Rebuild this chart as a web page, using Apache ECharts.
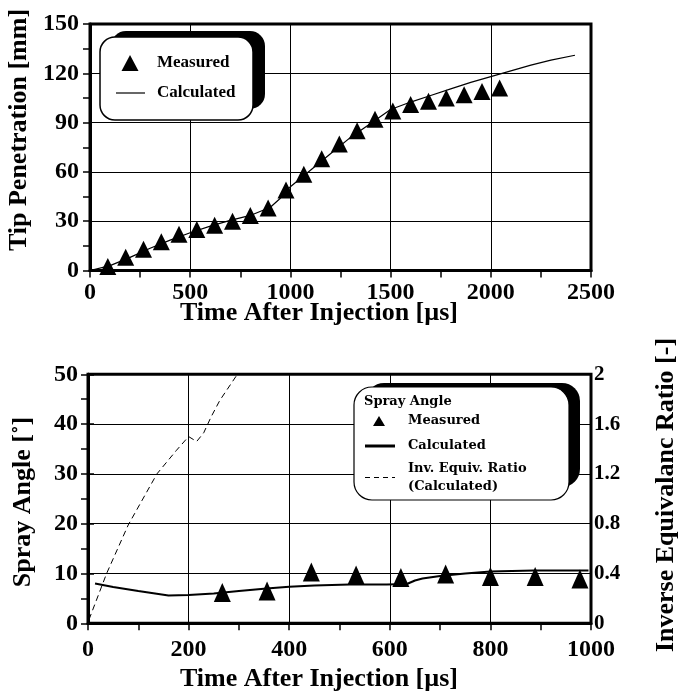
<!DOCTYPE html>
<html>
<head>
<meta charset="utf-8">
<script src="https://cdn.jsdelivr.net/npm/echarts@6/dist/echarts.min.js"></script>
<style>
  html, body { margin: 0; padding: 0; background: #fff; }
  #main { width: 679px; height: 693px; }
</style>
</head>
<body>
<div id="main"></div>
<script>
// top chart: tip penetration
var tipTime = [89, 178, 267, 356, 444, 533, 622, 711, 800, 889, 978, 1067, 1156, 1244,
    1333, 1422, 1511, 1600, 1689, 1778, 1867, 1956, 2044];
var tipMeasured = [2.5, 8, 13, 17.5, 22, 25, 27.5, 30, 33.5, 38, 49, 58.5, 68, 77,
    85, 92, 97, 101, 103, 105, 107, 109, 111];
var tipCalcTime = [0, 100, 200, 300, 400, 500, 600, 700, 800, 900, 950, 1000, 1100, 1200,
    1300, 1400, 1500, 1600, 1700, 1800, 1900, 2000, 2100, 2200, 2300, 2420];
var tipCalc = [0, 3, 8, 13.5, 18.5, 23, 27, 30.5, 33.5, 38.5, 44, 51, 61, 71,
    81, 89.5, 98, 102.5, 106.5, 110.5, 114.5, 118, 121.5, 125, 128, 131];

// bottom chart: spray angle + inverse equivalence ratio
var angleTime = [267, 356, 444, 533, 622, 711, 800, 889, 978];
var angleMeasured = [6.2, 6.5, 10.3, 9.7, 9.2, 9.9, 9.4, 9.4, 8.9];
var angleCalcTime = [14, 50, 100, 160, 200, 250, 300, 355, 400, 450, 520, 594, 634,
    650, 665, 700, 750, 800, 886, 995];
var angleCalc = [8.0, 7.3, 6.5, 5.6, 5.7, 6.0, 6.5, 7.0, 7.35, 7.6, 7.8, 7.8, 7.9,
    8.6, 9.0, 9.5, 10.0, 10.4, 10.6, 10.6];
var ratioTime = [2, 37, 80, 137, 176, 200, 216, 230, 245, 262, 297];
var ratioCalc = [0.03, 0.4, 0.79, 1.2, 1.39, 1.5, 1.46, 1.53, 1.66, 1.79, 2.0];

var topTicks = { min: 0, max: 2500, interval: 500 };
var tipTicks = { min: 0, max: 150, interval: 30 };
var botTicks = { min: 0, max: 1000, interval: 200 };
var angleTicks = { min: 0, max: 50, interval: 10 };
var ratioTicks = { min: 0, max: 2, interval: 0.4 };

function zip(xs, ys) {
    return xs.map(function (x, i) { return [x, ys[i]]; });
}
function plain(v) {
    return String(Math.round(v * 10) / 10);
}

var serif = '"Liberation Serif", "Times New Roman", serif';
var black = '#000';

function mainAxis(grid, ticks, pos, margin) {
    return {
        type: 'value', gridIndex: grid, position: pos,
        min: ticks.min, max: ticks.max, interval: ticks.interval,
        axisLine: { show: true, onZero: false, lineStyle: { color: black, width: 3 } },
        axisTick: { show: true, inside: false, length: 7, lineStyle: { color: black, width: 1.5 } },
        minorTick: { show: true, splitNumber: 2, length: 7, lineStyle: { color: black, width: 1.5 } },
        axisLabel: {
            margin: margin, color: black, fontFamily: serif, fontWeight: 'bold', fontSize: 24,
            formatter: plain
        },
        splitLine: { show: true, lineStyle: { color: black, width: 1 } }
    };
}

var myChart = echarts.init(document.getElementById('main'));

var rightAxis = {
    type: 'value', gridIndex: 1, position: 'right',
    min: ratioTicks.min, max: ratioTicks.max, interval: ratioTicks.interval,
    axisLine: { show: true, lineStyle: { color: black, width: 3 } },
    axisTick: { show: true, inside: false, length: 6, lineStyle: { color: black, width: 1.5 } },
    axisLabel: { margin: 3, color: black, fontFamily: serif, fontWeight: 'bold', fontSize: 21, formatter: plain },
    splitLine: { show: false }
};
var xAxes = [
    mainAxis(0, topTicks, 'bottom', 10),
    mainAxis(1, botTicks, 'bottom', 14)
];
var yAxes = [
    mainAxis(0, tipTicks, 'left', 11),
    mainAxis(1, angleTicks, 'left', 10),
    rightAxis
];

function titleText(text, x, y, rot) {
    return {
        type: 'text', x: x, y: y, rotation: rot || 0, z: 100,
        style: {
            text: text, fill: black, align: 'center', verticalAlign: 'middle',
            font: 'bold 26px ' + serif
        }
    };
}
function legendText(text, x, y, font) {
    return {
        type: 'text', x: x, y: y, z: 102,
        style: { text: text, fill: black, align: 'left', verticalAlign: 'middle', font: font }
    };
}

var legFontTop = 'bold 17px ' + serif;
var legFontBot = 'bold 13px "DejaVu Serif", serif';

var graphics = [
    titleText('Time After Injection [\u00b5s]', 319, 313),
    titleText('Time After Injection [\u00b5s]', 319, 679),
    titleText('Tip Penetration [mm]', 19, 130, Math.PI / 2),
    titleText('Spray Angle [\u02da]', 23, 502, Math.PI / 2),
    titleText('Inverse Equivalanc Ratio [-]', 666, 495, Math.PI / 2),

    // top legend box with heavy shadow
    { type: 'rect', z: 100, shape: { x: 111, y: 31, width: 154, height: 78, r: 15 }, style: { fill: black } },
    { type: 'rect', z: 101, shape: { x: 100, y: 37, width: 153, height: 83, r: 15 },
      style: { fill: '#fff', stroke: black, lineWidth: 1.5 } },
    { type: 'polygon', z: 102, shape: { points: [[130, 55], [138.5, 71], [121.5, 71]] }, style: { fill: black } },
    { type: 'line', z: 102, shape: { x1: 116, y1: 93, x2: 145, y2: 93 }, style: { stroke: black, lineWidth: 1.2 } },
    legendText('Measured', 157, 63, legFontTop),
    legendText('Calculated', 157, 93, legFontTop),

    // bottom legend box
    { type: 'rect', z: 100, shape: { x: 366, y: 383, width: 214, height: 104, r: 18 }, style: { fill: black } },
    { type: 'rect', z: 101, shape: { x: 354, y: 387, width: 215, height: 113, r: 18 },
      style: { fill: '#fff', stroke: black, lineWidth: 1.2 } },
    legendText('Spray Angle', 364, 402, legFontBot),
    { type: 'polygon', z: 102, shape: { points: [[379, 416], [385, 426], [373, 426]] }, style: { fill: black } },
    legendText('Measured', 408, 421, legFontBot),
    { type: 'line', z: 102, shape: { x1: 365, y1: 446, x2: 395, y2: 446 }, style: { stroke: black, lineWidth: 3 } },
    legendText('Calculated', 408, 446, legFontBot),
    { type: 'line', z: 102, shape: { x1: 365, y1: 477.5, x2: 395, y2: 477.5 },
      style: { stroke: black, lineWidth: 1, lineDash: [5, 4] } },
    legendText('Inv. Equiv. Ratio', 408, 469, legFontBot),
    legendText('(Calculated)', 408, 487, legFontBot)
];

var option = {
    animation: false,
    backgroundColor: '#fff',
    grid: [
        { left: 90, right: 88, top: 24, height: 246.5, show: true, borderColor: black, borderWidth: 3 },
        { left: 88, right: 88, top: 374.3, bottom: 69.7, show: true, borderColor: black, borderWidth: 3 }
    ],
    xAxis: xAxes,
    yAxis: yAxes,
    series: [
        {
            name: 'Calculated', type: 'line', xAxisIndex: 0, yAxisIndex: 0,
            symbol: 'none', lineStyle: { color: black, width: 1.2 },
            data: zip(tipCalcTime, tipCalc)
        },
        {
            name: 'Measured', type: 'scatter', xAxisIndex: 0, yAxisIndex: 0,
            symbol: 'triangle', symbolSize: [17, 17], itemStyle: { color: black, opacity: 1 },
            data: zip(tipTime, tipMeasured)
        },
        {
            name: 'Spray Angle Calculated', type: 'line', xAxisIndex: 1, yAxisIndex: 1,
            symbol: 'none', lineStyle: { color: black, width: 2 },
            data: zip(angleCalcTime, angleCalc)
        },
        {
            name: 'Inv. Equiv. Ratio', type: 'line', xAxisIndex: 1, yAxisIndex: 2,
            symbol: 'none', lineStyle: { color: black, width: 1, type: [6, 4] },
            data: zip(ratioTime, ratioCalc)
        },
        {
            name: 'Spray Angle Measured', type: 'scatter', xAxisIndex: 1, yAxisIndex: 1,
            symbol: 'triangle', symbolSize: [17, 19], itemStyle: { color: black, opacity: 1 },
            data: zip(angleTime, angleMeasured)
        }
    ],
    graphic: graphics
};

myChart.setOption(option);
</script>
</body>
</html>
